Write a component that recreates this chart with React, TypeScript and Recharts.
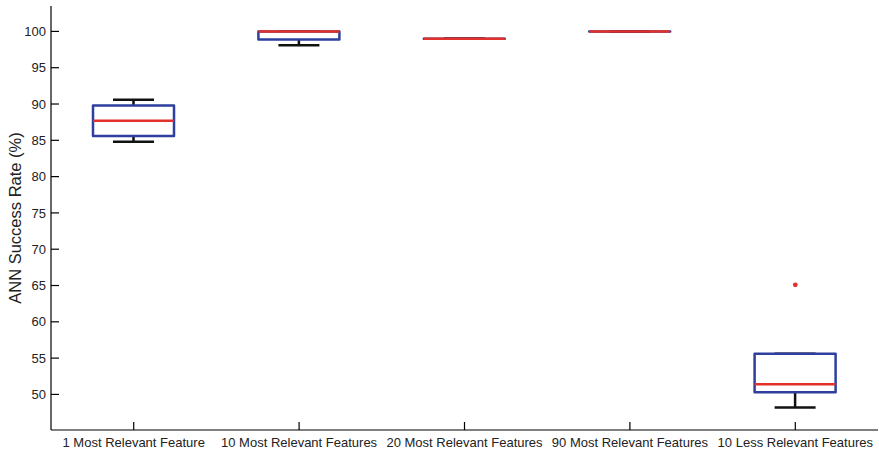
import { Bar, ComposedChart, Scatter, XAxis, YAxis } from "recharts";

// feature sets compared
const categories = [
	"1 Most Relevant Feature",
	"10 Most Relevant Features",
	"20 Most Relevant Features",
	"90 Most Relevant Features",
	"10 Less Relevant Features",
];

// box statistics per feature set (%)
const lowerWhisker = [84.8, 98.1, 99.0, 100.0, 48.2];
const lowerQuartile = [85.6, 98.9, 99.0, 100.0, 50.3];
const median = [87.7, 100.0, 99.0, 100.0, 51.4];
const upperQuartile = [89.8, 100.0, 99.0, 100.0, 55.6];
const upperWhisker = [90.6, 100.0, 99.0, 100.0, 55.6];

// points beyond the whiskers
const outlierCategories = ["10 Less Relevant Features"];
const outlierValues = [65.1];

const yTicks = [50, 55, 60, 65, 70, 75, 80, 85, 90, 95, 100];
const yDomain: [number, number] = [45.1, 103.5];

const BLUE = "#2e3f9e";
const RED = "#e2312a";
const INK = "#111111";
const FONT = "'Liberation Sans', Arial, sans-serif";

const data = categories.map((name, i) => ({
	name,
	lo: lowerWhisker[i],
	q1: lowerQuartile[i],
	med: median[i],
	q3: upperQuartile[i],
	hi: upperWhisker[i],
}));

const outliers = outlierCategories.map((name, i) => ({
	name,
	value: outlierValues[i],
}));

function span(props: any) {
	const top = Math.min(props.y, props.y + props.height);
	return { x: props.x, w: props.width, top, bottom: top + Math.abs(props.height) };
}

function WhiskerShape(props: any) {
	const { x, w, top, bottom } = span(props);
	const cx = x + w / 2;
	return (
		<g stroke={INK} strokeWidth={2.5}>
			<line x1={cx} x2={cx} y1={top} y2={bottom} />
			<line x1={x} x2={x + w} y1={top} y2={top} />
			<line x1={x} x2={x + w} y1={bottom} y2={bottom} />
		</g>
	);
}

function BoxShape(props: any) {
	const { x, w, top, bottom } = span(props);
	return (
		<path
			d={`M${x},${top}H${x + w}V${bottom}H${x}Z`}
			fill='#ffffff'
			stroke={BLUE}
			strokeWidth={2.5}
			strokeLinejoin='round'
		/>
	);
}

function MedianShape(props: any) {
	const { x, w, top } = span(props);
	return <line x1={x} x2={x + w} y1={top} y2={top} stroke={RED} strokeWidth={2.5} />;
}

function OutlierShape(props: any) {
	return <circle cx={props.cx} cy={props.cy} r={2.4} fill={RED} />;
}

const axisLine = { stroke: "#000", strokeWidth: 1.2 };
const tickText = { fill: "#222", fontSize: 13, fontFamily: FONT };

export default function App() {
	return (
		<div
			style={{
				position: "absolute",
				left: 0,
				top: 0,
				background: "#fff",
				fontFamily: FONT,
			}}
		>
			<ComposedChart
				width={879}
				height={453}
				data={data}
				margin={{ top: 6, right: 1, bottom: 0, left: 0 }}
			>
				<XAxis
					xAxisId='b'
					dataKey='name'
					height={23}
					interval={0}
					tickSize={-8}
					tickMargin={16}
					axisLine={axisLine}
					tickLine={axisLine}
					tick={tickText}
				/>
				<XAxis
					xAxisId='t'
					dataKey='name'
					orientation='top'
					height={0}
					interval={0}
					tickSize={-8}
					tick={false}
					axisLine={axisLine}
					tickLine={axisLine}
				/>
				<XAxis xAxisId='m' dataKey='name' hide allowDuplicatedCategory={false} />
				<YAxis
					yAxisId='l'
					width={51}
					domain={yDomain}
					allowDataOverflow
					ticks={yTicks}
					tickSize={-8}
					tickMargin={13}
					axisLine={axisLine}
					tickLine={axisLine}
					tick={tickText}
					label={{
						value: "ANN Success Rate (%)",
						angle: -90,
						position: "insideLeft",
						offset: 15,
						style: { textAnchor: "middle", fontSize: 16.5, fill: "#222", fontFamily: FONT },
					}}
				/>
				<YAxis
					yAxisId='r'
					orientation='right'
					width={0}
					domain={yDomain}
					allowDataOverflow
					ticks={yTicks}
					tickSize={-8}
					tick={false}
					axisLine={axisLine}
					tickLine={axisLine}
				/>

				<Bar
					xAxisId='b'
					yAxisId='l'
					dataKey={(d: any) => [d.lo, d.hi]}
					barSize={41}
					shape={WhiskerShape}
					isAnimationActive={false}
				/>
				<Bar
					xAxisId='t'
					yAxisId='l'
					dataKey={(d: any) => [d.q1, d.q3]}
					barSize={81}
					shape={BoxShape}
					isAnimationActive={false}
				/>
				<Bar
					xAxisId='m'
					yAxisId='r'
					dataKey={(d: any) => [d.med, d.med]}
					barSize={81}
					shape={MedianShape}
					isAnimationActive={false}
				/>
				<Scatter
					xAxisId='m'
					yAxisId='r'
					data={outliers}
					dataKey='value'
					shape={OutlierShape}
					isAnimationActive={false}
				/>
			</ComposedChart>
		</div>
	);
}
